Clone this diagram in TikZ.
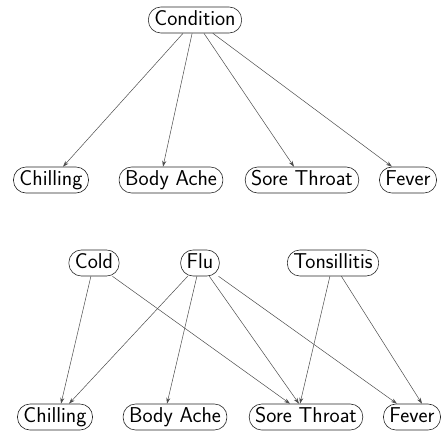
\documentclass[tikz,border=0pt]{standalone}
\usetikzlibrary{arrows.meta}
\begin{document}
\begin{tikzpicture}[x=1pt,y=-1pt,
  nd/.style={draw=black!85, line width=0.6pt, rounded corners=12.5pt, minimum height=26pt,
    inner xsep=6pt, inner ysep=0pt, text height=15pt, text depth=4pt,
    font=\fontsize{21.5}{25}\sffamily},
  ed/.style={draw=black!70, line width=0.5pt, -{Stealth[length=6pt,width=4pt]}}]
\useasboundingbox (0,0) rectangle (442,432);
% top diagram
\node[nd] (cond) at (195,20) {Condition};
\node[nd] (ch1) at (51,180) {Chilling};
\node[nd] (ba1) at (171,180) {Body Ache};
\node[nd] (st1) at (302,180) {Sore Throat};
\node[nd] (fe1) at (408,180) {Fever};
\draw[ed] (cond) -- ([xshift=12pt]ch1.north);
\draw[ed] (cond) -- ([xshift=-8pt]ba1.north);
\draw[ed] (cond) -- ([xshift=-8pt]st1.north);
\draw[ed] (cond) -- ([xshift=-16pt]fe1.north);
% bottom diagram
\node[nd] (cold) at (94,263) {Cold};
\node[nd] (flu) at (200,263) {Flu};
\node[nd] (tons) at (333,263) {Tonsillitis};
\node[nd] (ch2) at (55,417) {Chilling};
\node[nd] (ba2) at (175,417) {Body Ache};
\node[nd] (st2) at (306,417) {Sore Throat};
\node[nd] (fe2) at (412,417) {Fever};
\draw[ed] (cold) -- ([xshift=6pt]ch2.north);
\draw[ed] (cold) -- ([xshift=-16pt]st2.north);
\draw[ed] (flu) -- ([xshift=14pt]ch2.north);
\draw[ed] (flu) -- ([xshift=-8pt]ba2.north);
\draw[ed] (flu) -- ([xshift=-7pt]st2.north);
\draw[ed] (flu) -- ([xshift=-15pt]fe2.north);
\draw[ed] (tons) -- ([xshift=-6pt]st2.north);
\draw[ed] (tons) -- ([xshift=10pt]fe2.north);
\end{tikzpicture}
\end{document}
